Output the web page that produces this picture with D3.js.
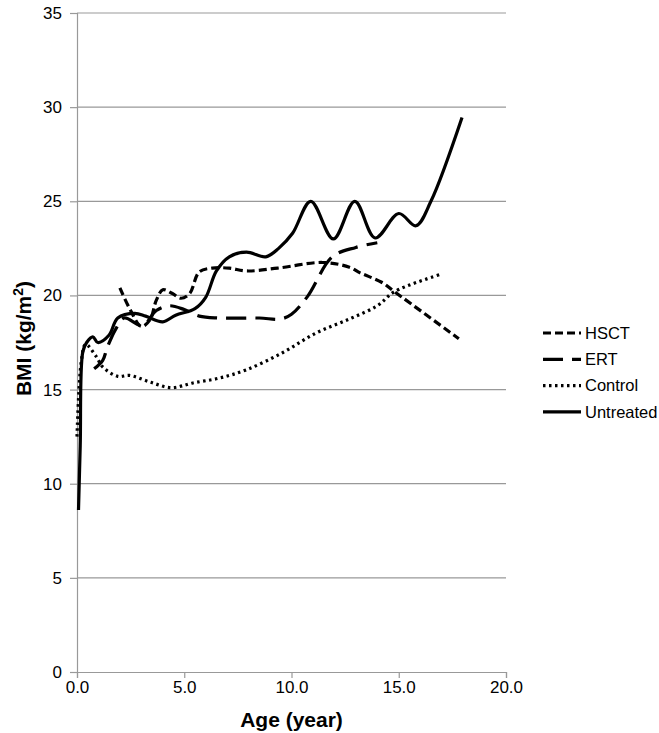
<!DOCTYPE html>
<html lang="en">
<head>
<meta charset="utf-8">
<title>BMI by age</title>
<script src="https://d3js.org/d3.v7.min.js"></script>
<style>
  body { margin: 0; background: #fff; }
  svg text { font-family: "Liberation Sans", Arial, sans-serif; fill: #000; }
</style>
</head>
<body>
<svg id="chart"></svg>
<script>
const width = 659;
const height = 733;
const margin = {top: 13, right: 153, bottom: 61, left: 77};

const seriesNames = ["HSCT", "ERT", "Control", "Untreated"];
const xTicks = [0, 5, 10, 15, 20];
const yTicks = [0, 5, 10, 15, 20, 25, 30, 35];

// [age, bmi] pairs
const hsct = [[2.0, 20.4], [2.5, 19.2], [3.0, 18.35], [3.4, 18.7], [3.7, 19.75], [4.0, 20.3],
  [4.45, 20.1], [4.85, 19.85], [5.25, 20.1], [5.7, 21.25], [6.3, 21.45], [7.1, 21.45],
  [7.9, 21.3], [9.35, 21.45], [11.45, 21.75], [12.7, 21.5], [13.2, 21.2], [14.2, 20.7],
  [14.8, 20.2], [17.8, 17.7]];
const ert = [[0.8, 16.1], [1.2, 16.55], [1.4, 17.2], [1.8, 18.2], [2.2, 18.8], [3.05, 18.4],
  [3.7, 19.2], [4.3, 19.45], [5.0, 19.25], [5.7, 18.9], [6.6, 18.8], [8.5, 18.8],
  [9.5, 18.75], [10.0, 19.0], [10.75, 19.95], [11.9, 22.05], [13.0, 22.55], [14.0, 22.8]];
const control = [[0.0, 12.5], [0.2, 16.5], [0.4, 17.4], [0.9, 16.75], [1.2, 16.2], [1.9, 15.7],
  [2.45, 15.75], [3.4, 15.4], [4.4, 15.1], [5.4, 15.35], [6.6, 15.6], [7.9, 16.05],
  [9.6, 16.97], [11.14, 18.0], [12.7, 18.75], [14.0, 19.45], [14.8, 20.2], [16.9, 21.1]];
const untreated = [[0.07, 8.6], [0.15, 12.0], [0.27, 17.0], [0.45, 17.5], [0.74, 17.8],
  [0.97, 17.5], [1.5, 17.9], [1.9, 18.8], [2.7, 19.05], [3.2, 18.9], [4.0, 18.6],
  [4.6, 18.95], [5.5, 19.3], [6.0, 19.9], [6.5, 21.3], [7.1, 22.05], [7.9, 22.3],
  [8.8, 22.05], [9.4, 22.5], [10.05, 23.3], [10.9, 25.0], [11.95, 23.0], [12.95, 25.0],
  [13.9, 23.05], [15.0, 24.35], [15.8, 23.7], [16.5, 25.0], [17.95, 29.45]];

const seriesData = [hsct, ert, control, untreated];
const dashes = ["8,4", "20,9", "2.5,3.5", null];

const svg = d3.select("#chart").attr("width", width).attr("height", height);

const x = d3.scaleLinear().domain([0, 20]).range([margin.left, width - margin.right]);
const y = d3.scaleLinear().domain([0, 35]).range([height - margin.bottom, margin.top]);

// gridlines
svg.append("g")
  .selectAll("line")
  .data(yTicks.filter(d => d > 0))
  .enter()
  .append("line")
  .attr("x1", x(0)).attr("x2", x(20))
  .attr("y1", d => y(d)).attr("y2", d => y(d))
  .attr("stroke", "#999").attr("stroke-width", 1.2);

// y axis
const yAxis = svg.append("g")
  .attr("transform", `translate(${x(0)},0)`)
  .call(d3.axisLeft(y).tickValues(yTicks).tickSize(7).tickPadding(8).tickFormat(d3.format("d")));
yAxis.select(".domain").attr("stroke", "#999").attr("stroke-width", 1.2);
yAxis.selectAll(".tick line").attr("stroke", "#999").attr("stroke-width", 1.2);
yAxis.selectAll("text").attr("font-size", 17);

// x axis
const xAxis = svg.append("g")
  .attr("transform", `translate(0,${y(0)})`)
  .call(d3.axisBottom(x).tickValues(xTicks).tickSize(6).tickPadding(3).tickFormat(d3.format(".1f")));
xAxis.select(".domain").attr("stroke", "#999").attr("stroke-width", 1.2);
xAxis.selectAll(".tick line").attr("stroke", "#999").attr("stroke-width", 1.2);
xAxis.selectAll("text").attr("font-size", 17);

// axis titles
svg.append("text")
  .attr("x", x(10)).attr("y", 727)
  .attr("text-anchor", "middle")
  .attr("font-size", 21).attr("font-weight", "bold")
  .text("Age (year)");

const yTitle = svg.append("text")
  .attr("transform", `translate(31,${y(17.5) - 4}) rotate(-90)`)
  .attr("text-anchor", "middle")
  .attr("font-size", 21).attr("font-weight", "bold");
yTitle.append("tspan").text("BMI (kg/m");
yTitle.append("tspan").attr("font-size", 14).attr("dy", -8).text("2");
yTitle.append("tspan").attr("dy", 8).text(")");

// lines
const line = d3.line()
  .x(d => x(d[0]))
  .y(d => y(d[1]))
  .curve(d3.curveCatmullRom.alpha(0.5));

svg.append("g")
  .selectAll("path")
  .data(seriesData)
  .enter()
  .append("path")
  .attr("d", d => line(d))
  .attr("fill", "none")
  .attr("stroke", "#000")
  .attr("stroke-width", 3.2)
  .attr("stroke-dasharray", (d, i) => dashes[i]);

// legend
const legend = svg.append("g")
  .selectAll("g")
  .data(seriesNames)
  .enter()
  .append("g")
  .attr("transform", (d, i) => `translate(543,${333 + i * 26.3})`);

legend.append("line")
  .attr("x1", 0).attr("x2", 38)
  .attr("stroke", "#000").attr("stroke-width", 3.2)
  .attr("stroke-dasharray", (d, i) => dashes[i]);

legend.append("text")
  .attr("x", 42).attr("dy", "0.35em")
  .attr("font-size", 16.5)
  .text(d => d);
</script>
</body>
</html>
